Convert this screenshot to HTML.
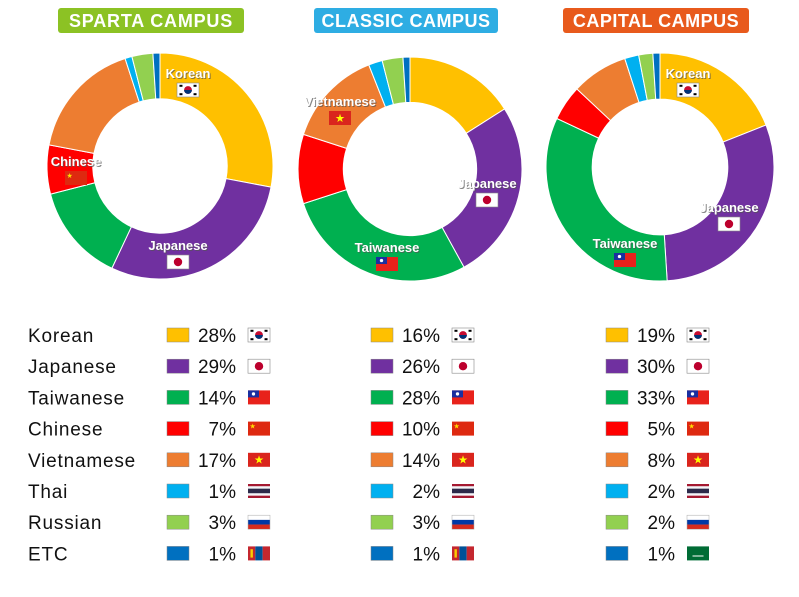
<!DOCTYPE html>
<html><head><meta charset="utf-8"><style>
body{margin:0;background:#fff;width:799px;height:592px;overflow:hidden;font-family:"Liberation Sans","DejaVu Sans",sans-serif}
</style></head><body>
<svg id="s" width="799" height="592" xmlns="http://www.w3.org/2000/svg" font-family="Liberation Sans, DejaVu Sans, sans-serif">
<rect x="58" y="8" width="186" height="25" rx="3" fill="#8cc224"/>
<text x="151" y="27" text-anchor="middle" font-size="18" font-weight="bold" fill="#fff" letter-spacing="0.8">SPARTA CAMPUS</text>
<rect x="314" y="8" width="184" height="25" rx="3" fill="#2eade3"/>
<text x="406" y="27" text-anchor="middle" font-size="18" font-weight="bold" fill="#fff" letter-spacing="0.5">CLASSIC CAMPUS</text>
<rect x="563" y="8" width="186" height="25" rx="3" fill="#e85a1c"/>
<text x="656" y="27" text-anchor="middle" font-size="18" font-weight="bold" fill="#fff" letter-spacing="0.5">CAPITAL CAMPUS</text>
<g id="donuts"></g><g id="labels"></g><g id="legend"></g>
</svg>
<script>
var C=["#ffc000","#7030a0","#00b050","#ff0000","#ed7d31","#00b0f0","#92d050","#0070c0"];
var data=[[28,29,14,7,17,1,3,1],[16,26,28,10,14,2,3,1],[19,30,33,5,8,2,2,1]];
var ctr=[[160,166,113],[410,169,112],[660,167,114]];
var NS="http://www.w3.org/2000/svg";
function el(t,a,p,txt){var e=document.createElementNS(NS,t);for(var k in a)e.setAttribute(k,a[k]);if(txt!=null)e.textContent=txt;p.appendChild(e);return e;}
var D=document.getElementById("donuts");
data.forEach(function(d,i){var cx=ctr[i][0],cy=ctr[i][1],R=ctr[i][2],r=R*0.595,a=0;
d.forEach(function(v,j){var a0=a,a1=a+v/100*2*Math.PI;a=a1;
function p(rr,an){return [cx+rr*Math.sin(an),cy-rr*Math.cos(an)];}
var A=p(R,a0),B=p(R,a1),E=p(r,a1),F=p(r,a0),lg=(a1-a0)>Math.PI?1:0;
el("path",{d:"M"+A+"A"+R+","+R+" 0 "+lg+" 1 "+B+"L"+E+"A"+r+","+r+" 0 "+lg+" 0 "+F+"Z",fill:C[j],stroke:"#fff","stroke-width":1},D);});});
function flag(t,x,y,w,h,p){var g=el("g",{},p);
if(t=="kr"){el("rect",{x:x,y:y,width:w,height:h,fill:"#fff",stroke:"#888","stroke-width":0.6},g);el("circle",{cx:x+w/2,cy:y+h/2,r:h*0.28,fill:"#c60c30"},g);el("path",{d:"M"+(x+w/2-h*0.28)+","+(y+h/2)+"a"+h*0.28+","+h*0.28+" 0 0 0 "+h*0.56+",0z",fill:"#003478"},g);
 [[-1,-1],[1,-1],[-1,1],[1,1]].forEach(function(q){el("rect",{x:x+w/2+q[0]*w*0.32-1.5,y:y+h/2+q[1]*h*0.3-1,width:3,height:2,fill:"#000"},g);});}
if(t=="jp"){el("rect",{x:x,y:y,width:w,height:h,fill:"#fff",stroke:"#888","stroke-width":0.6},g);el("circle",{cx:x+w/2,cy:y+h/2,r:h*0.3,fill:"#bc002d"},g);}
if(t=="tw"){el("rect",{x:x,y:y,width:w,height:h,fill:"#e8221b"},g);el("rect",{x:x,y:y,width:w/2,height:h/2,fill:"#1a2fa0"},g);el("circle",{cx:x+w/4,cy:y+h/4,r:h*0.12,fill:"#fff"},g);}
if(t=="cn"){el("rect",{x:x,y:y,width:w,height:h,fill:"#de2910"},g);el("text",{x:x+1.5,y:y+h*0.5,"font-size":h*0.5,fill:"#ffde00"},g,"★");}
if(t=="vn"){el("rect",{x:x,y:y,width:w,height:h,fill:"#da251d"},g);el("text",{x:x+w/2,y:y+h*0.78,"font-size":h*0.8,fill:"#ffff00","text-anchor":"middle"},g,"★");}
if(t=="th"){var s=[["#a51931",1],["#f4f5f8",1],["#2d2a4a",2],["#f4f5f8",1],["#a51931",1]],yy=y;s.forEach(function(q){el("rect",{x:x,y:yy,width:w,height:h*q[1]/6,fill:q[0]},g);yy+=h*q[1]/6;});}
if(t=="ru"){["#fff","#0039a6","#d52b1e"].forEach(function(c,k){el("rect",{x:x,y:y+k*h/3,width:w,height:h/3,fill:c},g);});el("rect",{x:x,y:y,width:w,height:h,fill:"none",stroke:"#aaa","stroke-width":0.5},g);}
if(t=="mn"){["#c4272f","#015197","#c4272f"].forEach(function(c,k){el("rect",{x:x+k*w/3,y:y,width:w/3,height:h,fill:c},g);});el("rect",{x:x+w/9,y:y+h*0.2,width:w/9,height:h*0.6,fill:"#f9cf02"},g);}
if(t=="sa"){el("rect",{x:x,y:y,width:w,height:h,fill:"#006c35"},g);el("rect",{x:x+w*0.25,y:y+h*0.65,width:w*0.5,height:1,fill:"#fff"},g);}
}
var L=document.getElementById("labels");
var labs=[["Korean",188,78,"kr"],["Chinese",76,166,"cn"],["Japanese",178,250,"jp"],["Vietnamese",340,106,"vn"],["Japanese",487,188,"jp"],["Taiwanese",387,252,"tw"],["Korean",688,78,"kr"],["Japanese",729,212,"jp"],["Taiwanese",625,248,"tw"]];
labs.forEach(function(l){el("text",{x:l[1]+1,y:l[2]+1,"text-anchor":"middle","font-size":13,"font-weight":"bold",fill:"#555",opacity:0.7},L,l[0]);
el("text",{x:l[1],y:l[2],"text-anchor":"middle","font-size":13,"font-weight":"bold",fill:"#fff"},L,l[0]);
flag(l[3],l[1]-11,l[2]+5,22,14,L);});
var names=["Korean","Japanese","Taiwanese","Chinese","Vietnamese","Thai","Russian","ETC"];
var fl=[["kr","jp","tw","cn","vn","th","ru","mn"],["kr","jp","tw","cn","vn","th","ru","mn"],["kr","jp","tw","cn","vn","th","ru","sa"]];
var G=document.getElementById("legend");var offs=[0,204,439];
names.forEach(function(n,j){var cy=335+j*31.2;
el("text",{x:28,y:cy+7,"font-size":19,fill:"#111","letter-spacing":0.8},G,n);
offs.forEach(function(o,i){el("rect",{x:167+o,y:cy-7,width:22,height:14,fill:C[j],stroke:"#888","stroke-width":0.5},G);
el("text",{x:236+o,y:cy+7,"font-size":19,fill:"#111","text-anchor":"end"},G,data[i][j]+"%");
flag(fl[i][j],248+o,cy-7,22,14,G);});});
</script>
</body></html>
